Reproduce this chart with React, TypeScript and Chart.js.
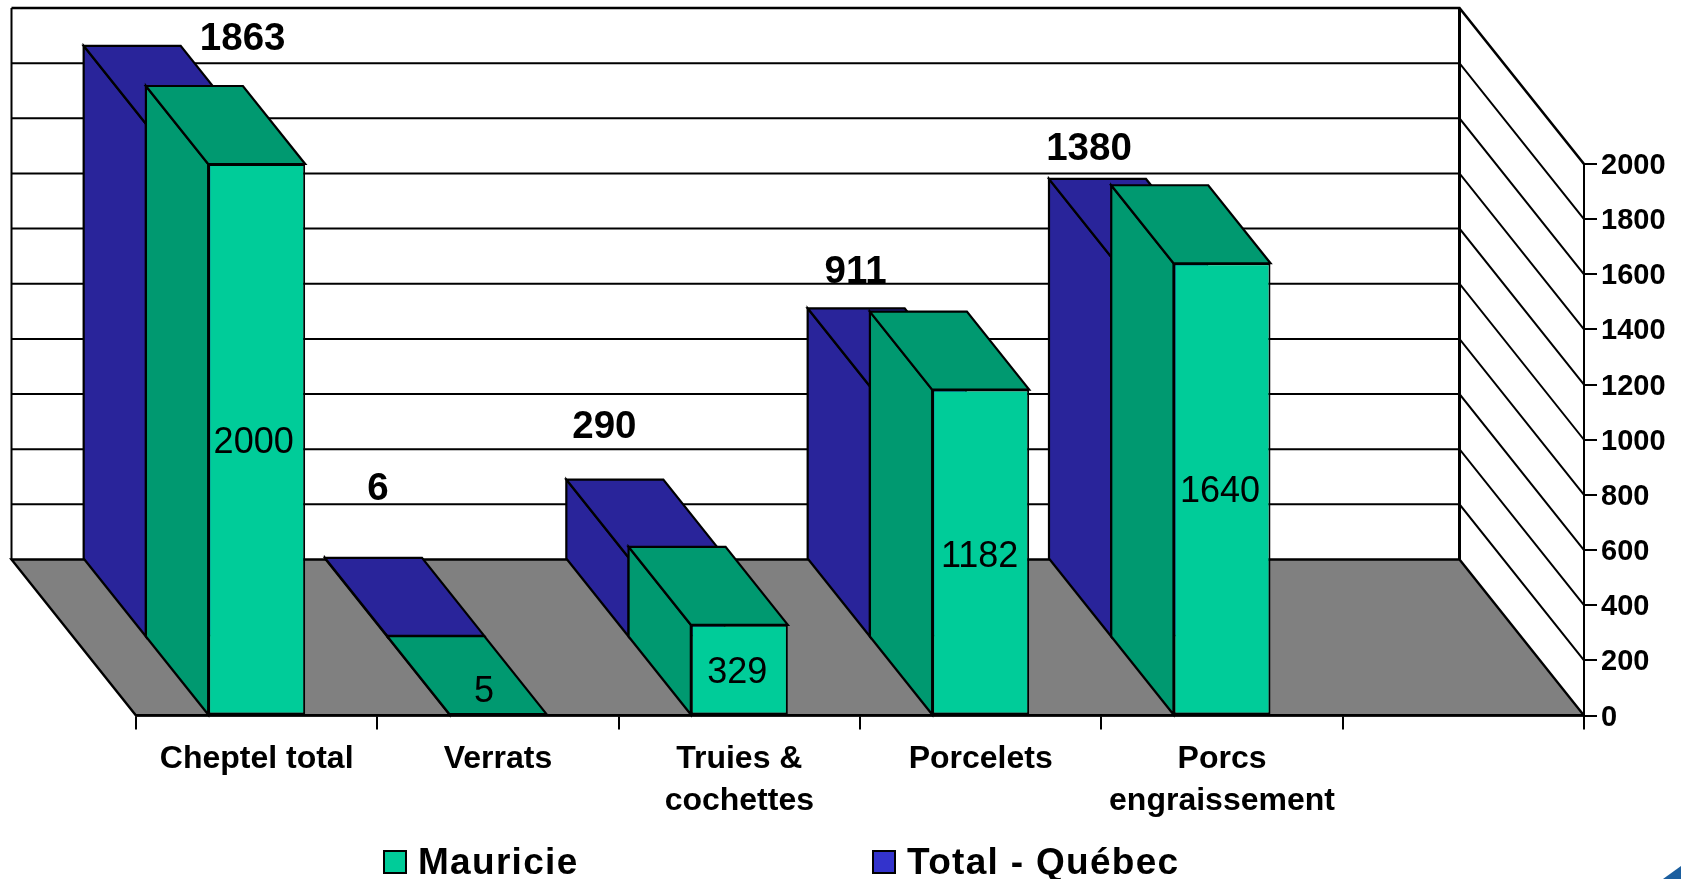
import React, { useEffect, useRef } from "react";
import { Chart, registerables } from "chart.js";

Chart.register(...registerables);

const categories: (string | string[])[] = [
  "Cheptel total",
  "Verrats",
  ["Truies &", "cochettes"],
  "Porcelets",
  ["Porcs", "engraissement"],
  "",
];
const mauricie = [2000, 5, 329, 1182, 1640, null];
const quebec = [1863, 6, 290, 911, 1380, null];
const seriesNames = ["Mauricie", "Total - Québec"];

// label nudges, in pixels, from each label's default place
const quebecLabelPlace: [number, number][] = [
  [-14, -6], [-120, -68], [-135, -52], [-125, -36], [-133, -30],
];
const mauricieLabelPlace: [number, number][] = [
  [-3, 4], [-14, -22], [-2, 3.5], [-1, 5], [-2, 3.5],
];

const FONT = '"Liberation Sans", Arial, sans-serif';
const DEPTH_X = 62.25;
const DEPTH_Y = 78;
const BLACK = "#000000";
const GREEN = "#00CC99";
const GREEN_DARK = "#009970";
const BLUE = "#3333CC";
const BLUE_DARK = "#29249A";
const FLOOR = "#808080";

const poly = (ctx: CanvasRenderingContext2D, pts: number[][], fill: string | null, lw = 2.2) => {
  ctx.beginPath();
  pts.forEach((p, i) => (i ? ctx.lineTo(p[0], p[1]) : ctx.moveTo(p[0], p[1])));
  ctx.closePath();
  if (fill) {
    ctx.fillStyle = fill;
    ctx.fill();
  }
  ctx.lineWidth = lw;
  ctx.strokeStyle = BLACK;
  ctx.lineJoin = "miter";
  ctx.stroke();
};

const line = (ctx: CanvasRenderingContext2D, pts: number[][], lw: number) => {
  ctx.beginPath();
  pts.forEach((p, i) => (i ? ctx.lineTo(p[0], p[1]) : ctx.moveTo(p[0], p[1])));
  ctx.lineWidth = lw;
  ctx.strokeStyle = BLACK;
  ctx.stroke();
};

const walls = {
  id: "walls",
  beforeDraw(chart: any) {
    const { ctx, chartArea: a, scales } = chart;
    const y = scales.y;
    const bx = 2 * DEPTH_X;
    const by = 2 * DEPTH_Y;
    ctx.save();
    ctx.fillStyle = "#ffffff";
    ctx.fillRect(0, 0, chart.width, chart.height);
    y.ticks.forEach((t: any) => {
      const py = y.getPixelForValue(t.value);
      if (t.value === 0) return;
      const top = t.value === y.max;
      line(ctx, [[a.left - bx, py - by], [a.right - bx, py - by], [a.right, py]], top ? 2.6 : 2);
    });
    const y0 = y.getPixelForValue(0);
    poly(ctx, [[a.left, y0], [a.right, y0], [a.right - bx, y0 - by], [a.left - bx, y0 - by]], FLOOR, 2.4);
    line(ctx, [[a.left - bx, a.top - by], [a.left - bx, y0 - by]], 2);
    line(ctx, [[a.right - bx, a.top - by], [a.right - bx, y0 - by]], 3);

    // corner of the slide's decoration, bottom right
    ctx.beginPath();
    ctx.moveTo(1663, 879);
    ctx.lineTo(1681, 866);
    ctx.lineTo(1681, 879);
    ctx.closePath();
    ctx.fillStyle = "#1B5E9E";
    ctx.fill();
    ctx.restore();

    // y tick labels sit 2px under their ticks in the reference
    y.getLabelItems().forEach((item: any) => {
      if (!item.__moved) {
        item.options.translation[1] += 2;
        item.__moved = true;
      }
    });
  },
};

const depthFaces = {
  id: "depthFaces",
  beforeDatasetDraw(chart: any, args: any) {
    const { ctx } = chart;
    const shift = args.index === 1 ? 1 : 0;
    const dark = args.index === 1 ? BLUE_DARK : GREEN_DARK;
    const values = chart.data.datasets[args.index].data;
    ctx.save();
    ctx.translate(-shift * DEPTH_X, -shift * DEPTH_Y);
    args.meta.data.forEach((el: any, i: number) => {
      if (values[i] == null) return;
      const l = el.x - el.width / 2;
      const r = el.x + el.width / 2;
      poly(ctx, [[l, el.base], [l, el.y], [l - DEPTH_X, el.y - DEPTH_Y], [l - DEPTH_X, el.base - DEPTH_Y]], dark);
      poly(ctx, [[l, el.y], [r, el.y], [r - DEPTH_X, el.y - DEPTH_Y], [l - DEPTH_X, el.y - DEPTH_Y]], dark);
    });
  },
  afterDatasetDraw(chart: any) {
    chart.ctx.restore();
  },
};

const labelsAndLegend = {
  id: "labelsAndLegend",
  afterDatasetsDraw(chart: any) {
    const { ctx } = chart;
    ctx.save();
    ctx.textAlign = "center";
    ctx.textBaseline = "middle";
    ctx.fillStyle = BLACK;

    ctx.font = `36px ${FONT}`;
    chart.getDatasetMeta(0).data.forEach((el: any, i: number) => {
      const v = mauricie[i];
      if (v == null) return;
      const n = mauricieLabelPlace[i];
      ctx.fillText(String(v), el.x + n[0], (el.y + el.base) / 2 + n[1]);
    });

    ctx.font = `bold 38.5px ${FONT}`;
    chart.getDatasetMeta(1).data.forEach((el: any, i: number) => {
      const v = quebec[i];
      if (v == null) return;
      const n = quebecLabelPlace[i];
      ctx.fillText(String(v), el.x + n[0], el.y - 2 * DEPTH_Y + n[1]);
    });

    // legend
    ctx.textAlign = "left";
    ctx.textBaseline = "alphabetic";
    ctx.font = `bold 37px ${FONT}`;
    (ctx as any).letterSpacing = "1.3px";
    const items = [
      { box: 384, text: 418, color: GREEN },
      { box: 873, text: 907, color: BLUE },
    ];
    items.forEach((it, i) => {
      ctx.fillStyle = it.color;
      ctx.strokeStyle = BLACK;
      ctx.lineWidth = 2;
      ctx.fillRect(it.box, 851, 22, 22);
      ctx.strokeRect(it.box, 851, 22, 22);
      ctx.fillStyle = BLACK;
      ctx.fillText(seriesNames[i], it.text, 874);
    });
    ctx.restore();
  },
};

export default function App() {
  const ref = useRef<HTMLCanvasElement>(null);
  useEffect(() => {
    if (!ref.current) return;
    const common = {
      categoryPercentage: 1,
      barPercentage: 0.402,
      grouped: false,
      borderColor: BLACK,
      borderWidth: 2,
      borderSkipped: false,
      clip: false,
    };
    const chart = new Chart(ref.current, {
      type: "bar",
      data: {
        labels: categories as any,
        datasets: [
          { label: seriesNames[0], data: mauricie, backgroundColor: GREEN, ...common },
          { label: seriesNames[1], data: quebec, backgroundColor: BLUE, ...common },
        ] as any,
      },
      options: {
        responsive: false,
        animation: false,
        events: [],
        layout: { padding: { left: 136, top: 164, right: 0, bottom: 0 } },
        plugins: { legend: { display: false }, tooltip: { enabled: false }, title: { display: false } },
        scales: {
          x: {
            grid: { drawOnChartArea: false, drawTicks: true, tickLength: 14, color: BLACK, lineWidth: 2 },
            border: { color: BLACK, width: 2.4 },
            ticks: {
              color: BLACK,
              maxRotation: 0,
              autoSkip: false,
              padding: 9,
              font: { family: FONT, size: 32, weight: "bold", lineHeight: 1.31 },
            },
            afterFit: (s: any) => {
              s.height = 163.5;
            },
          },
          y: {
            position: "right",
            min: 0,
            max: 2000,
            grid: { drawOnChartArea: false, drawTicks: true, tickLength: 13, color: BLACK, lineWidth: 2 },
            border: { color: BLACK, width: 2 },
            ticks: {
              stepSize: 200,
              color: BLACK,
              padding: 4,
              callback: (v: any) => String(v),
              font: { family: FONT, size: 29, weight: "bold" },
            },
            afterFit: (s: any) => {
              s.width = 97;
            },
          },
        },
      } as any,
      plugins: [walls, depthFaces, labelsAndLegend],
    });
    return () => chart.destroy();
  }, []);
  return (
    <div style={{ position: "absolute", left: 0, top: 0, width: 1681, height: 879, overflow: "hidden" }}>
      <canvas ref={ref} width={1681} height={879} style={{ display: "block" }} />
    </div>
  );
}
